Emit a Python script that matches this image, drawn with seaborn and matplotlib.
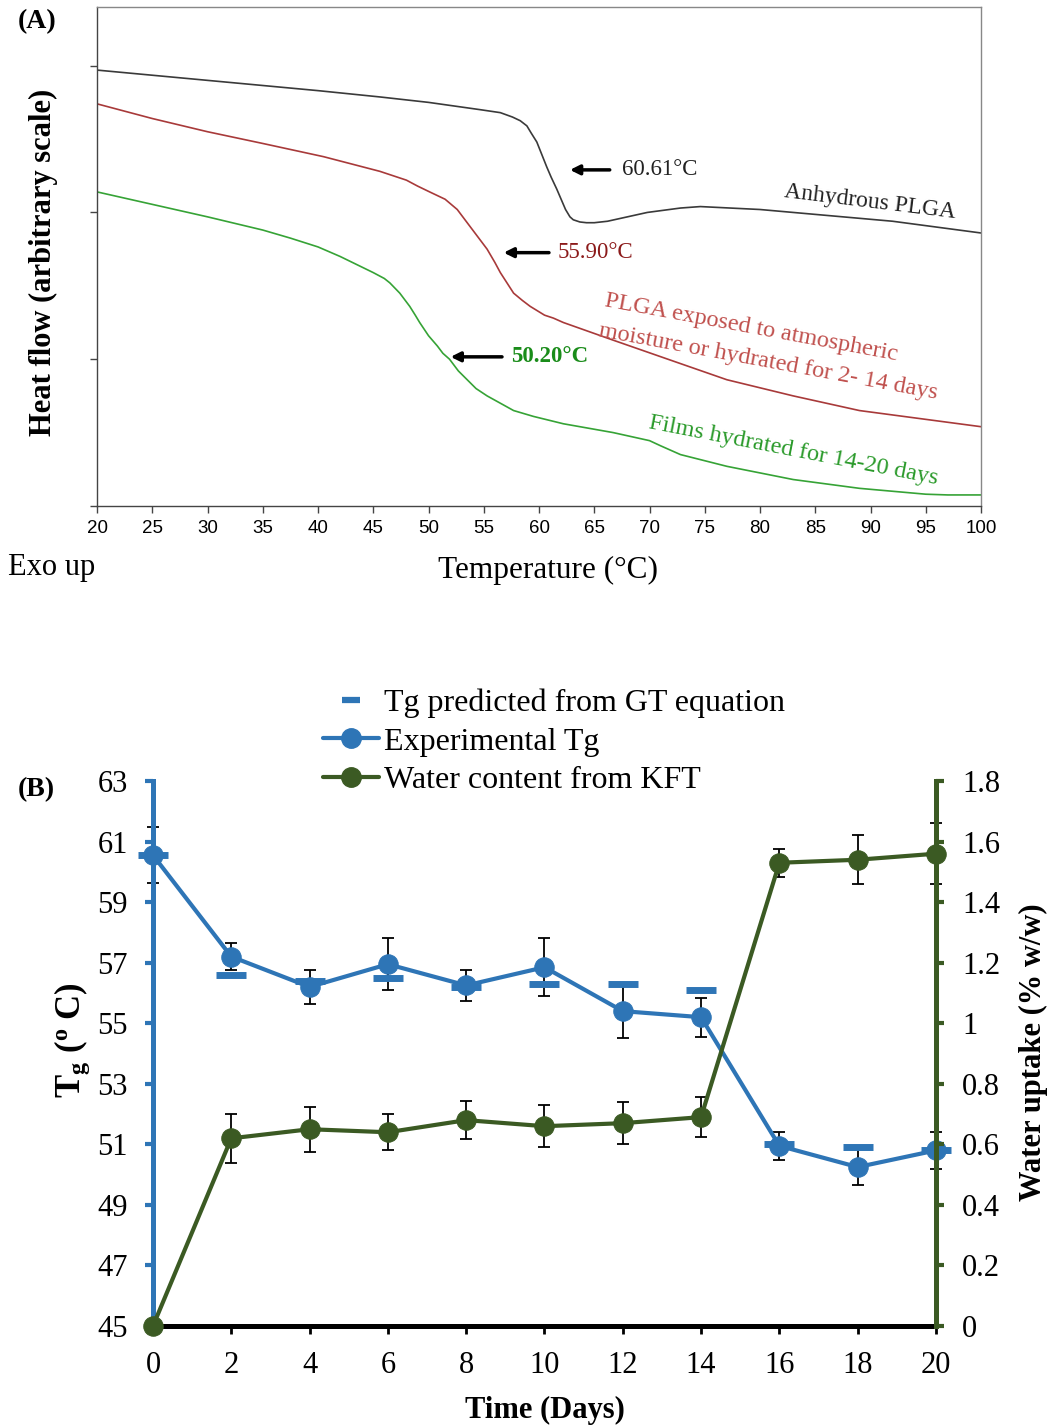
import matplotlib
matplotlib.use('Agg')
import matplotlib.pyplot as plt
from matplotlib.lines import Line2D
import seaborn as sns

# (A) DSC thermograms (heat flow, arbitrary units)
temp_anhydrous = [20, 25, 30, 35, 40, 45.6, 50, 54.7, 56.5, 57.6, 58.3, 58.9, 59.3, 59.8, 60.7, 61.1,
                  61.6, 62.0, 62.4, 62.8, 63.1, 63.7, 64.3, 65, 66.2, 68, 69.8, 72.8, 74.6, 80, 86, 92, 100]
flow_anhydrous = [2.97, 2.935, 2.90, 2.865, 2.83, 2.787, 2.75, 2.70, 2.68, 2.65, 2.625, 2.59, 2.54, 2.48, 2.31, 2.24,
                  2.16, 2.09, 2.02, 1.97, 1.95, 1.935, 1.93, 1.93, 1.94, 1.97, 2.00, 2.03, 2.04, 2.02, 1.98, 1.94, 1.86]

temp_moist = [20, 25, 30, 35, 40.5, 45.6, 48, 49, 50.1, 51.5, 52.6, 53.3, 54.0, 55.3, 56.0, 56.5, 57.1, 57.7,
              58.5, 59.2, 60.5, 61.3, 62.2, 66.7, 72.8, 77, 83, 89, 95, 100]
flow_moist = [2.74, 2.64, 2.55, 2.47, 2.38, 2.28, 2.22, 2.18, 2.14, 2.09, 2.02, 1.95, 1.88, 1.75, 1.66, 1.59, 1.52, 1.45,
              1.40, 1.36, 1.30, 1.28, 1.25, 1.13, 0.97, 0.86, 0.75, 0.65, 0.59, 0.54]

temp_hydrated = [20, 25, 30, 35, 37.5, 40, 42, 45, 46, 46.5, 47.4, 48.3, 48.8, 49.2, 50, 50.8, 51.3, 51.9, 52.7,
                 53.5, 54.3, 55.3, 56.5, 57.7, 59.5, 62.2, 66.7, 70, 71, 72.8, 77, 83, 89, 95, 97, 100]
flow_hydrated = [2.14, 2.055, 1.97, 1.88, 1.825, 1.765, 1.70, 1.59, 1.55, 1.52, 1.45, 1.36, 1.30, 1.25, 1.16, 1.09, 1.04,
                 1.00, 0.92, 0.86, 0.80, 0.75, 0.70, 0.65, 0.61, 0.56, 0.50, 0.445, 0.41, 0.35, 0.27, 0.18, 0.12, 0.08,
                 0.075, 0.075]

# (B) Tg and water uptake vs hydration time
days = [0, 2, 4, 6, 8, 10, 12, 14, 16, 18, 20]
tg_exp = [60.55, 57.2, 56.2, 56.95, 56.25, 56.85, 55.4, 55.2, 50.95, 50.25, 50.8]
tg_exp_err = [0.93, 0.45, 0.55, 0.85, 0.5, 0.95, 0.9, 0.65, 0.45, 0.6, 0.6]
tg_gt = [60.55, 56.6, 56.4, 56.5, 56.2, 56.3, 56.3, 56.1, 51.0, 50.9, 50.8]
water = [0, 0.62, 0.65, 0.64, 0.68, 0.66, 0.67, 0.69, 1.53, 1.54, 1.56]
water_err = [0, 0.08, 0.075, 0.06, 0.062, 0.07, 0.07, 0.067, 0.046, 0.081, 0.1]
tg_ticks = list(range(45, 64, 2))
water_ticks = [0, 0.2, 0.4, 0.6, 0.8, 1, 1.2, 1.4, 1.6, 1.8]
water_ticklabels = ['0', '0.2', '0.4', '0.6', '0.8', '1', '1.2', '1.4', '1.6', '1.8']

sns.set_theme(style='white')
plt.rcParams['font.family'] = ['Liberation Serif', 'DejaVu Serif']
plt.rcParams['mathtext.fontset'] = 'custom'
plt.rcParams['mathtext.rm'] = 'Liberation Serif'
plt.rcParams['mathtext.bf'] = 'Liberation Serif:bold'
plt.rcParams['mathtext.it'] = 'Liberation Serif:italic'
plt.rcParams['text.color'] = 'black'
plt.rcParams['axes.labelcolor'] = 'black'
plt.rcParams['xtick.labelcolor'] = 'black'
plt.rcParams['ytick.labelcolor'] = 'black'

blue = '#2e75b6'
green = '#3b5a23'

fig = plt.figure(figsize=(10.5, 14.26), dpi=100)

# ---------- panel A ----------
ax1 = fig.add_axes([0.0924, 0.6452, 0.8419, 0.3499])
sns.lineplot(x=temp_anhydrous, y=flow_anhydrous, sort=False, color='#3a3a3a', lw=1.2, ax=ax1)
sns.lineplot(x=temp_moist, y=flow_moist, sort=False, color='#a83a3a', lw=1.2, ax=ax1)
sns.lineplot(x=temp_hydrated, y=flow_hydrated, sort=False, color='#36a336', lw=1.2, ax=ax1)
ax1.set_xlim(20, 100)
ax1.set_ylim(0, 3.4)
ax1.set_xticks(range(20, 101, 5))
ax1.set_yticks([0, 1, 2, 3])
ax1.set_yticklabels([])
ax1.tick_params(axis='both', direction='out', length=5, width=1, color='#444444',
                left=True, bottom=True, labelsize=13.5, pad=5)
for lab in ax1.get_xticklabels():
    lab.set_fontfamily('Liberation Sans')
for s in ['left', 'bottom']:
    ax1.spines[s].set_color('#444444')
for s in ['top', 'right']:
    ax1.spines[s].set_color('#888888')
for s in ax1.spines.values():
    s.set_linewidth(1)

ax1.set_xlabel('Temperature (°C)', fontsize=22.5)
ax1.xaxis.set_label_coords(0.51, -0.1)
ax1.set_ylabel('Heat flow (arbitrary scale)', fontsize=22, fontweight='bold')
ax1.yaxis.set_label_coords(-0.044, 0.489)

arrow = dict(arrowstyle='-|>', color='black', lw=2.5, mutation_scale=14, shrinkA=0, shrinkB=0)
ax1.annotate('', xy=(62.8, 2.29), xytext=(66.4, 2.29), arrowprops=arrow)
ax1.text(67.5, 2.29, '60.61°C', va='center', fontsize=16.5, color='#222222')
ax1.annotate('', xy=(56.8, 1.726), xytext=(60.9, 1.726), arrowprops=arrow)
ax1.text(61.7, 1.726, '55.90°C', va='center', fontsize=16.5, color='#8b1a1a')
ax1.annotate('', xy=(52.0, 1.016), xytext=(56.65, 1.016), arrowprops=arrow)
ax1.text(57.5, 1.016, '50.20°C', va='center', fontsize=16.5, color='#1a8c1a', fontweight='bold')

ax1.text(82.1, 2.108, 'Anhydrous PLGA', fontsize=17, color='#222222', rotation=-7,
         rotation_mode='anchor', ha='left', va='baseline')
ax1.text(65.9, 1.364, 'PLGA exposed to atmospheric', fontsize=17.5, color='#c0504d', rotation=-10.5,
         rotation_mode='anchor', ha='left', va='baseline')
ax1.text(65.3, 1.16, 'moisture or hydrated for 2- 14 days', fontsize=17.5, color='#c0504d', rotation=-10.5,
         rotation_mode='anchor', ha='left', va='baseline')
ax1.text(69.9, 0.532, 'Films hydrated for 14-20 days', fontsize=17.5, color='#2a9a2a', rotation=-11,
         rotation_mode='anchor', ha='left', va='baseline')

fig.text(8 / 1050, 1 - 568 / 1426, 'Exo up', va='center', ha='left', fontsize=22)
fig.text(18 / 1050, 1 - 22 / 1426, '(A)', va='center', ha='left', fontsize=20, fontweight='bold')

# ---------- panel B ----------
ax2 = fig.add_axes([0.1457, 0.0701, 0.7457, 0.3822])
ax3 = ax2.twinx()

ax2.errorbar(days, tg_exp, yerr=tg_exp_err, fmt='none', ecolor='black', elinewidth=1.3,
             capsize=4.5, capthick=1.3, zorder=2, clip_on=False)
sns.lineplot(x=days, y=tg_exp, color=blue, lw=3, marker='o', markersize=14,
             markeredgecolor=blue, clip_on=False, zorder=3, ax=ax2)
ax2.plot(days, tg_gt, ls='none', marker='_', ms=22, mew=5, color=blue, clip_on=False, zorder=4)

ax3.errorbar(days, water, yerr=water_err, fmt='none', ecolor='black', elinewidth=1.3,
             capsize=4.5, capthick=1.3, zorder=2, clip_on=False)
sns.lineplot(x=days, y=water, color=green, lw=3, marker='o', markersize=14,
             markeredgecolor=green, clip_on=False, zorder=3, ax=ax3)

ax2.set_xlim(0, 20)
ax2.set_ylim(45, 63)
ax3.set_ylim(0, 1.8)
ax2.set_xticks(days)
ax2.set_yticks(tg_ticks)
ax3.set_yticks(water_ticks)
ax3.set_yticklabels(water_ticklabels)

for s in ['top', 'right']:
    ax2.spines[s].set_visible(False)
for s in ['top', 'left', 'bottom']:
    ax3.spines[s].set_visible(False)
ax2.spines['left'].set_color(blue)
ax2.spines['left'].set_linewidth(3.6)
ax2.spines['bottom'].set_color('black')
ax2.spines['bottom'].set_linewidth(3.6)
ax3.spines['right'].set_color(green)
ax3.spines['right'].set_linewidth(3.6)

ax2.tick_params(axis='y', left=True, direction='out', length=6, width=3, color=blue,
                labelsize=22, pad=12)
ax2.tick_params(axis='x', bottom=True, direction='out', length=6, width=2, color='black',
                labelsize=22, pad=12)
ax3.tick_params(axis='y', right=True, direction='out', length=6, width=3, color=green,
                labelsize=22, pad=13)

ax2.set_xlabel('Time (Days)', fontsize=22, fontweight='bold')
ax2.xaxis.set_label_coords(0.5006, -0.129)
ax2.set_ylabel(r'$\mathbf{T_g}$ ($^{\mathbf{o}}$ C)', fontsize=25, fontweight='bold')
ax2.yaxis.set_label_coords(-0.078, 0.525)
ax3.set_ylabel('Water uptake (% w/w)', fontsize=22, fontweight='bold')
ax3.yaxis.set_label_coords(1.106, 0.503)

handles = [
    Line2D([], [], ls='none', marker='_', ms=13, mew=4.5, color=blue),
    Line2D([], [], color=blue, lw=3, marker='o', ms=14),
    Line2D([], [], color=green, lw=3, marker='o', ms=14),
]
labels = ['Tg predicted from GT equation', 'Experimental Tg', 'Water content from KFT']
fig.legend(handles, labels, loc='upper left', bbox_to_anchor=(0.3076, 0.517), frameon=False,
           fontsize=23, handlelength=1.75, handletextpad=0.15, labelspacing=0.28,
           borderpad=0, borderaxespad=0)

fig.text(18 / 1050, 1 - 790 / 1426, '(B)', va='center', ha='left', fontsize=20, fontweight='bold')

fig.savefig('out.png', dpi=100)
